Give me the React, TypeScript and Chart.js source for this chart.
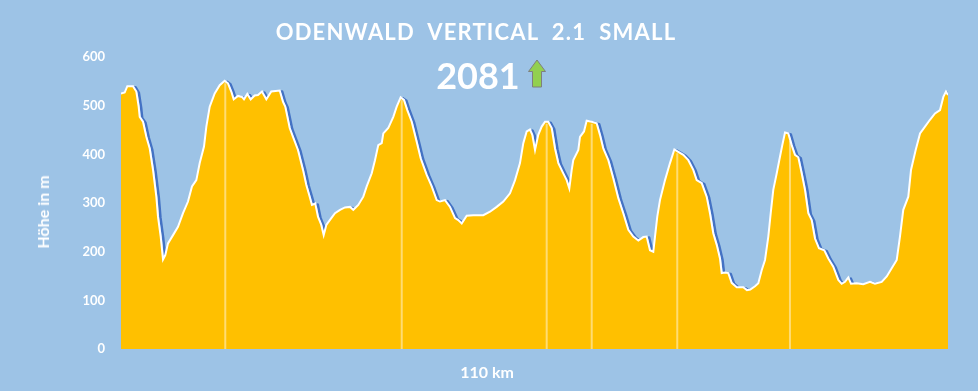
import React, { useEffect, useRef } from "react";
import { Chart, registerables } from "chart.js";

Chart.register(...registerables);

// ---- data ----
const distanceKm = [
  0, 0.49, 0.84, 1.6, 2.04, 2.35, 2.49, 2.93, 3.37, 3.82, 4.26, 4.7, 4.92, 5.28, 5.59, 5.89, 6.25, 6.92, 7.58, 8.25,
  8.91, 9.44, 10.02, 10.47, 11.04, 11.35, 11.8, 12.46, 13.13, 13.79, 14.23, 14.67, 14.99, 15.56, 16.09, 16.36, 16.8, 17.25, 17.78, 18.22,
  18.75, 19.33, 19.99, 21.11, 21.55, 21.85, 22.44, 22.88, 23.54, 24.21, 24.65, 25.1, 25.4, 25.84, 26.2, 26.64, 26.96, 27.31, 27.97, 28.46,
  29.13, 29.79, 30.46, 30.9, 31.56, 32.23, 32.68, 33.35, 33.78, 34.22, 34.68, 34.89, 35.55, 36.22, 36.67, 37.2, 37.64, 38.08, 38.67, 39.33,
  39.86, 40.66, 41.33, 41.99, 42.43, 43.1, 43.76, 44.43, 44.86, 45.32, 45.98, 46.86, 48.19, 49.08, 49.97, 50.85, 51.74, 52.41, 53.07, 53.51,
  53.96, 54.4, 54.71, 55.07, 55.5, 55.96, 56.4, 56.83, 57.29, 57.73, 58.17, 58.83, 59.28, 59.63, 59.95, 60.16, 60.83, 61.05, 61.58, 61.94,
  62.61, 63.27, 63.71, 64.15, 64.82, 65.48, 66.15, 66.81, 67.48, 68.14, 68.81, 69.47, 69.92, 70.36, 70.8, 71.03, 71.33, 71.69, 72.36, 73.02,
  73.6, 74.13, 74.79, 75.46, 76.12, 76.57, 77.24, 77.9, 78.34, 78.78, 79.24, 79.67, 79.9, 80.34, 80.78, 81.23, 81.9, 82.77, 83.26, 83.7,
  84.33, 84.77, 85.22, 85.66, 86.1, 86.42, 86.76, 87.22, 87.65, 87.96, 88.32, 88.76, 89.21, 89.65, 90.09, 90.54, 90.98, 91.42, 91.87, 92.31,
  92.84, 93.55, 94.08, 94.74, 95.41, 95.86, 96.3, 96.74, 97.1, 97.85, 98.73, 99.63, 100.29, 101.18, 101.85, 102.51, 103.18, 103.61, 104.05, 104.72,
  105.08, 105.7, 106.28, 106.94, 107.6, 108.27, 108.94, 109.38, 109.73, 110,
];

const elevationM = [
  525, 527, 540, 540, 529, 498, 477, 467, 436, 412, 368, 313, 272, 231, 184, 193, 217, 234, 251, 279,
  303, 334, 347, 382, 416, 457, 498, 525, 542, 551, 546, 529, 513, 520, 518, 513, 524, 513, 521, 522,
  529, 513, 529, 531, 508, 498, 454, 436, 409, 368, 337, 313, 296, 299, 272, 255, 234, 255, 269, 279,
  286, 291, 292, 286, 296, 313, 334, 361, 388, 419, 423, 443, 454, 477, 498, 517, 512, 491, 467, 426,
  392, 358, 334, 306, 303, 306, 292, 269, 265, 258, 274, 275, 275, 282, 292, 303, 320, 347, 382, 423,
  447, 451, 440, 409, 440, 457, 467, 467, 454, 412, 382, 361, 347, 330, 368, 388, 409, 436, 447, 469,
  467, 464, 440, 412, 388, 351, 310, 279, 245, 231, 223, 230, 231, 203, 200, 231, 272, 306, 347, 382,
  410, 405, 399, 388, 368, 347, 341, 313, 279, 238, 214, 186, 156, 157, 156, 136, 127, 127, 121, 122,
  129, 135, 162, 183, 231, 279, 327, 361, 395, 419, 445, 443, 419, 399, 394, 361, 327, 279, 265, 227,
  207, 203, 186, 169, 142, 134, 138, 147, 134, 135, 133, 138, 134, 138, 149, 166, 183, 231, 286, 313,
  368, 409, 443, 457, 471, 484, 491, 518, 529, 522,
];

const summitKm = [13.87, 37.34, 56.62, 62.61, 73.99, 88.98];
const yTickValues = [0, 100, 200, 300, 400, 500, 600];

const titleText = "ODENWALD  VERTICAL  2.1  SMALL";
const climbText = "2081";
const xAxisTitle = "110 km";
const yAxisTitle = "Höhe in m";

const BG = "#9DC3E6";
const FILL = "#FFC000";
const FONT = "Lato, 'Open Sans', sans-serif";

function elevationAt(k: number): number {
  for (let i = 1; i < distanceKm.length; i++) {
    if (distanceKm[i] >= k) {
      const t = (k - distanceKm[i - 1]) / (distanceKm[i] - distanceKm[i - 1]);
      return elevationM[i - 1] + t * (elevationM[i] - elevationM[i - 1]);
    }
  }
  return elevationM[elevationM.length - 1];
}

const shadowPlugin = {
  id: "blueShadow",
  beforeDatasetsDraw(chart: any) {
    const meta = chart.getDatasetMeta(0);
    const pts = meta.data;
    if (!pts || !pts.length) return;
    const { ctx, chartArea } = chart;
    ctx.save();
    ctx.beginPath();
    ctx.rect(chartArea.left, 0, chartArea.right - chartArea.left, chartArea.bottom);
    ctx.clip();
    ctx.translate(2.5, 1);
    ctx.beginPath();
    pts.forEach((p: any, i: number) => (i === 0 ? ctx.moveTo(p.x, p.y) : ctx.lineTo(p.x, p.y)));
    ctx.strokeStyle = "#4472C4";
    ctx.lineWidth = 2.5;
    ctx.lineJoin = "round";
    ctx.stroke();
    ctx.restore();
  },
};

const markerPlugin = {
  id: "summitMarkers",
  afterDatasetsDraw(chart: any) {
    const { ctx, scales } = chart;
    const xs = scales.x;
    const ys = scales.y;
    ctx.save();
    ctx.strokeStyle = "rgba(255,255,255,0.45)";
    ctx.lineWidth = 2;
    summitKm.forEach((k) => {
      const x = xs.getPixelForValue(k);
      const yTop = ys.getPixelForValue(elevationAt(k)) + 2;
      const yBot = ys.getPixelForValue(0);
      ctx.beginPath();
      ctx.moveTo(x, yBot);
      ctx.lineTo(x, yTop);
      ctx.stroke();
    });
    ctx.restore();
  },
};

export default function App() {
  const canvasRef = useRef<HTMLCanvasElement | null>(null);

  useEffect(() => {
    if (!canvasRef.current) return;
    const chart = new Chart(canvasRef.current, {
      type: "line",
      data: {
        datasets: [
          {
            data: distanceKm.map((x, i) => ({ x, y: elevationM[i] })),
            borderColor: "#FFFFFF",
            borderWidth: 2,
            backgroundColor: FILL,
            fill: "origin",
            pointRadius: 0,
            tension: 0,
          },
        ],
      },
      options: {
        animation: false,
        responsive: true,
        maintainAspectRatio: false,
        layout: { padding: { top: 57, right: 30, left: 0, bottom: 0 } },
        plugins: { legend: { display: false }, tooltip: { enabled: false }, title: { display: false } },
        scales: {
          x: {
            type: "linear",
            min: 0,
            max: 110,
            ticks: { display: false },
            grid: { display: false, drawTicks: false },
            border: { display: false },
            afterFit: (s: any) => {
              s.height = 42;
            },
          },
          y: {
            min: 0,
            max: 600,
            afterBuildTicks: (s: any) => {
              s.ticks = yTickValues.map((v) => ({ value: v }));
            },
            ticks: {
              color: "#FFFFFF",
              padding: 16,
              font: { family: FONT, weight: "bold", size: 13 },
            },
            grid: { display: false, drawTicks: false },
            border: { display: false },
            afterFit: (s: any) => {
              s.width = 121;
            },
          },
        },
      } as any,
      plugins: [shadowPlugin, markerPlugin],
    });
    return () => chart.destroy();
  }, []);

  const textBase: React.CSSProperties = {
    position: "absolute",
    color: "#FFFFFF",
    fontFamily: FONT,
    fontWeight: 700,
    whiteSpace: "pre",
    lineHeight: 1,
    transform: "translate(-50%, -50%)",
  };

  return (
    <div style={{ position: "absolute", left: 0, top: 0, width: 978, height: 391, background: BG, overflow: "hidden" }}>
      <canvas ref={canvasRef} />
      <div style={{ ...textBase, left: 476, top: 32, fontSize: 22, letterSpacing: 1.2 }}>{titleText}</div>
      <div style={{ ...textBase, left: 478, top: 75, fontSize: 36 }}>{climbText}</div>
      <svg style={{ position: "absolute", left: 527, top: 59 }} width={20} height={30} viewBox="0 0 20 30">
        <polygon points="10,1 18.5,12.5 14.5,12.5 14.5,28 5.5,28 5.5,12.5 1.5,12.5" fill="#92D050" stroke="#7F7F7F" strokeWidth={1} />
      </svg>
      <div style={{ ...textBase, left: 487, top: 372, fontSize: 16 }}>{xAxisTitle}</div>
      <div style={{ ...textBase, left: 43, top: 212, fontSize: 16, transform: "translate(-50%, -50%) rotate(-90deg)" }}>
        {yAxisTitle}
      </div>
    </div>
  );
}
